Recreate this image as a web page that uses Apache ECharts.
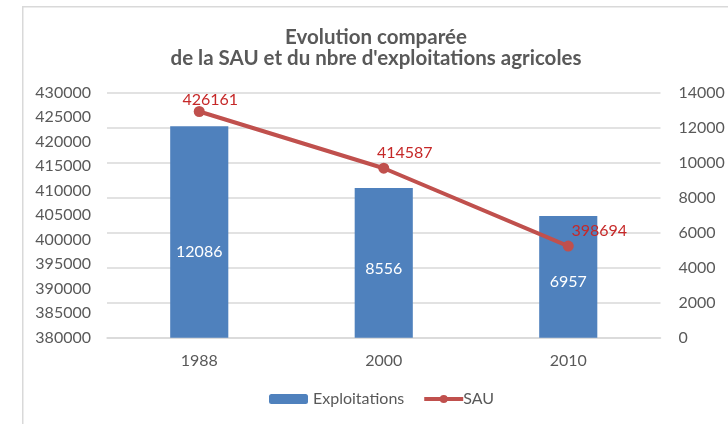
<!DOCTYPE html>
<html>
<head>
<meta charset="utf-8">
<script src="https://cdn.jsdelivr.net/npm/echarts@6/dist/echarts.min.js"></script>
<style>
html,body{margin:0;padding:0;background:#fff;}
#c{width:728px;height:424px;}
</style>
</head>
<body>
<div id="c"></div>
<script>
const categories = ['1988', '2000', '2010'];
const exploitations = [12086, 8556, 6957];
const sau = [426161, 414587, 398694];
const titleLines = ['Evolution comparée', "de la SAU et du nbre d'exploitations agricoles"];

const FONT = 'Lato';
const sauLabelOffsets = [[11, 7], [21, 3], [31, 3]];
const barLabelOffsets = [[0, 20], [0, 6], [0, 5]];

const chart = echarts.init(document.getElementById('c'), null, {renderer: 'canvas'});
chart.setOption({
  animation: false,
  backgroundColor: '#fff',
  graphic: [{
    type: 'rect', left: 22, top: 6, z: -1,
    shape: {width: 760, height: 460},
    style: {fill: '#fff', stroke: '#d9d9d9', lineWidth: 1.5}
  }],
  title: {
    text: titleLines.join('\n'),
    left: 371,
    textAlign: 'center',
    top: 22,
    textStyle: {fontFamily: FONT, fontSize: 20.5, fontWeight: 'bold', color: '#595959', lineHeight: 21}
  },
  legend: {
    bottom: 12,
    left: 264,
    itemGap: 18,
    itemWidth: 39,
    itemHeight: 10,
    textStyle: {fontFamily: FONT, fontSize: 16, color: '#595959'},
    data: [
      {name: 'Exploitations'},
      {name: 'SAU', lineStyle: {width: 4}, textStyle: {padding: [0, 0, 0, -5]}}
    ]
  },
  grid: {left: 107, right: 67.5, top: 92.7, bottom: 86.3},
  xAxis: {
    type: 'category',
    data: categories,
    axisTick: {show: false},
    axisLine: {lineStyle: {color: '#d9d9d9', width: 1.5}},
    axisLabel: {fontFamily: FONT, fontSize: 16, color: '#595959', margin: 15}
  },
  yAxis: [{
    type: 'value', position: 'left',
    min: 380000, max: 430000, interval: 5000,
    splitLine: {show: false},
    axisLine: {show: false}, axisTick: {show: false},
    axisLabel: {fontFamily: FONT, fontSize: 16, color: '#595959', margin: 16, formatter: v => String(v)}
  }, {
    type: 'value', position: 'right',
    min: 0, max: 14000, interval: 2000,
    splitLine: {show: true, lineStyle: {color: '#d9d9d9', width: 1.5}},
    axisLine: {show: false}, axisTick: {show: false},
    axisLabel: {fontFamily: FONT, fontSize: 16, color: '#595959', margin: 18, formatter: v => String(v)}
  }],
  series: [{
    name: 'Exploitations',
    type: 'bar',
    yAxisIndex: 1,
    barWidth: '31.5%',
    itemStyle: {color: '#4F81BD'},
    data: exploitations.map((v, i) => ({
      value: v,
      label: {show: true, position: 'inside', offset: barLabelOffsets[i],
        fontFamily: FONT, fontSize: 16, color: '#fff'}
    }))
  }, {
    name: 'SAU',
    type: 'line',
    yAxisIndex: 0,
    symbol: 'circle',
    symbolSize: 11,
    lineStyle: {color: '#C0504D', width: 4},
    itemStyle: {color: '#C0504D'},
    data: sau.map((v, i) => ({
      value: v,
      label: {show: true, position: 'top', offset: sauLabelOffsets[i],
        fontFamily: FONT, fontSize: 16, color: '#C62828'}
    }))
  }]
});
</script>
</body>
</html>
